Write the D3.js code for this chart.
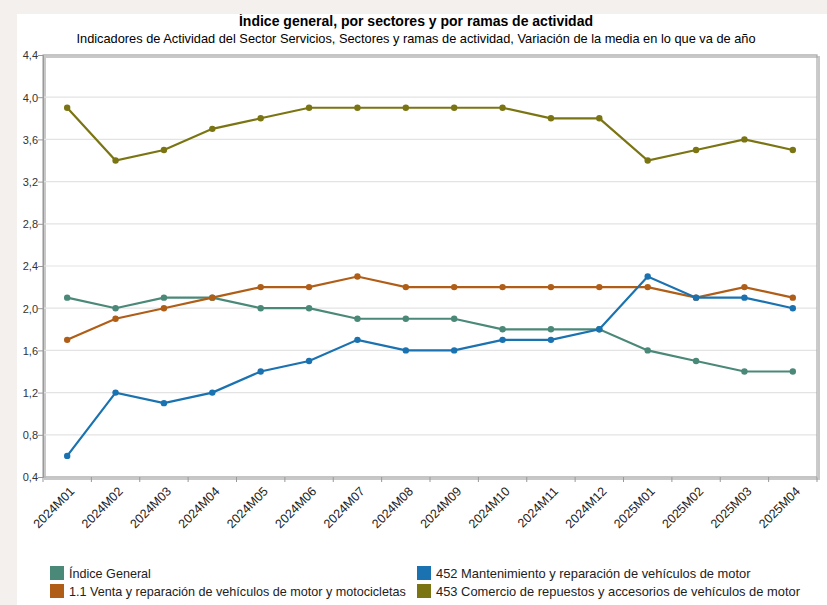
<!DOCTYPE html>
<html>
<head>
<meta charset="utf-8">
<script src="https://cdn.jsdelivr.net/npm/d3@7"></script>
<style>
  body { margin: 0; background: #f3f0ed; }
  #chart { position: absolute; left: 17px; top: 14px; width: 810px; height: 591px; background: #fff; }
  text { font-family: "Liberation Sans", Arial, sans-serif; }
</style>
</head>
<body>
<div id="chart"></div>
<script>
var periods = ['2024M01','2024M02','2024M03','2024M04','2024M05','2024M06','2024M07','2024M08',
  '2024M09','2024M10','2024M11','2024M12','2025M01','2025M02','2025M03','2025M04'];
var indiceGeneral = [2.1, 2.0, 2.1, 2.1, 2.0, 2.0, 1.9, 1.9, 1.9, 1.8, 1.8, 1.8, 1.6, 1.5, 1.4, 1.4];
var ventaReparacion = [1.7, 1.9, 2.0, 2.1, 2.2, 2.2, 2.3, 2.2, 2.2, 2.2, 2.2, 2.2, 2.2, 2.1, 2.2, 2.1];
var mantenimiento = [0.6, 1.2, 1.1, 1.2, 1.4, 1.5, 1.7, 1.6, 1.6, 1.7, 1.7, 1.8, 2.3, 2.1, 2.1, 2.0];
var comercioRepuestos = [3.9, 3.4, 3.5, 3.7, 3.8, 3.9, 3.9, 3.9, 3.9, 3.9, 3.8, 3.8, 3.4, 3.5, 3.6, 3.5];
var yTicks = [0.4, 0.8, 1.2, 1.6, 2.0, 2.4, 2.8, 3.2, 3.6, 4.0, 4.4];

var series = [
  { name: 'Índice General', values: indiceGeneral, color: '#4a8878' },
  { name: '1.1 Venta y reparación de vehículos de motor y motocicletas', values: ventaReparacion, color: '#b05e17' },
  { name: '452 Mantenimiento y reparación de vehículos de motor', values: mantenimiento, color: '#1a72b0' },
  { name: '453 Comercio de repuestos y accesorios de vehículos de motor', values: comercioRepuestos, color: '#7a7512' }
];

function drawChart() {
  var frame = d3.select('#chart');
  frame.html('');
  var width = 810, height = 591;
  var margins = { left: 26, right: 10, top: 41, bottom: 128 };
  var w = width - margins.left - margins.right;
  var h = height - margins.top - margins.bottom;

  var svg = frame.append('svg')
    .attr('width', width)
    .attr('height', height);

  svg.append('text')
    .attr('x', width / 2 - 6)
    .attr('y', 12)
    .attr('text-anchor', 'middle')
    .style('font-size', '14px')
    .style('font-weight', 'bold')
    .text('Índice general, por sectores y por ramas de actividad');
  svg.append('text')
    .attr('x', width / 2 - 6)
    .attr('y', 29)
    .attr('text-anchor', 'middle')
    .style('font-size', '12.8px')
    .text('Indicadores de Actividad del Sector Servicios, Sectores y ramas de actividad, Variación de la media en lo que va de año');

  var g = svg.append('g')
    .attr('transform', 'translate(' + margins.left + ',' + margins.top + ')');

  var xScale = d3.scaleBand().domain(periods).range([0, w]);
  var yScale = d3.scaleLinear().domain([0.4, 4.4]).range([h, 0]);

  // shadow of plot frame
  g.append('rect')
    .attr('x', 2).attr('y', 2).attr('width', w).attr('height', h)
    .attr('fill', 'none').attr('stroke', '#c8c8c8').attr('stroke-width', 2);

  g.append('g')
    .attr('class', 'grid')
    .selectAll('line')
    .data(yTicks)
    .enter().append('line')
      .attr('x1', 0).attr('x2', w)
      .attr('y1', function(d) { return yScale(d); })
      .attr('y2', function(d) { return yScale(d); })
      .attr('stroke', '#e3e3e3')
      .attr('stroke-width', 1.2);

  g.append('rect')
    .attr('width', w).attr('height', h)
    .attr('fill', 'none').attr('stroke', '#a8a8a8').attr('stroke-width', 1.2);

  var yAxis = g.append('g')
    .call(d3.axisLeft(yScale).tickValues(yTicks).tickSize(5)
      .tickFormat(function(d) { return d3.format('.1f')(d).replace('.', ','); }));
  yAxis.select('.domain').attr('stroke', '#999');
  yAxis.selectAll('.tick line').attr('stroke', '#999');
  yAxis.selectAll('text')
    .attr('x', -5).attr('dy', '0.35em')
    .style('font-size', '11px').attr('fill', '#333');

  var xAxis = g.append('g')
    .attr('transform', 'translate(0,' + h + ')')
    .call(d3.axisBottom(xScale).tickSize(0));
  xAxis.select('.domain').remove();
  xAxis.selectAll('.tick text')
    .style('font-size', '12.5px')
    .attr('fill', '#222')
    .attr('text-anchor', 'end')
    .attr('transform', 'translate(5,12) rotate(-45)')
    .attr('dy', '0.35em')
    .attr('y', 0);
  g.append('g')
    .selectAll('line')
    .data(periods.concat(['end']))
    .enter().append('line')
      .attr('x1', function(d, i) { return i * xScale.step(); })
      .attr('x2', function(d, i) { return i * xScale.step(); })
      .attr('y1', h).attr('y2', h + 5)
      .attr('stroke', '#999');

  var line = d3.line()
    .x(function(d, i) { return xScale(periods[i]) + xScale.bandwidth() / 2; })
    .y(function(d) { return yScale(d); });

  series.forEach(function(s) {
    g.append('path')
      .datum(s.values)
      .attr('fill', 'none')
      .attr('stroke', s.color)
      .attr('stroke-width', 2.2)
      .attr('d', line);
    g.selectAll(null)
      .data(s.values)
      .enter().append('circle')
        .attr('cx', function(d, i) { return xScale(periods[i]) + xScale.bandwidth() / 2; })
        .attr('cy', function(d) { return yScale(d); })
        .attr('r', 3.2)
        .attr('fill', s.color);
  });

  var legendPos = [[33, 552], [33, 570], [400, 552], [400, 570]];
  var legend = svg.append('g');
  series.forEach(function(s, i) {
    var item = legend.append('g')
      .attr('transform', 'translate(' + legendPos[i][0] + ',' + legendPos[i][1] + ')');
    item.append('rect')
      .attr('width', 14).attr('height', 14)
      .attr('fill', s.color);
    item.append('text')
      .attr('x', 19).attr('y', 11.5)
      .style('font-size', i < 2 ? '12.6px' : '12.9px')
      .attr('fill', '#222')
      .text(s.name);
  });
}

drawChart();
</script>
</body>
</html>
